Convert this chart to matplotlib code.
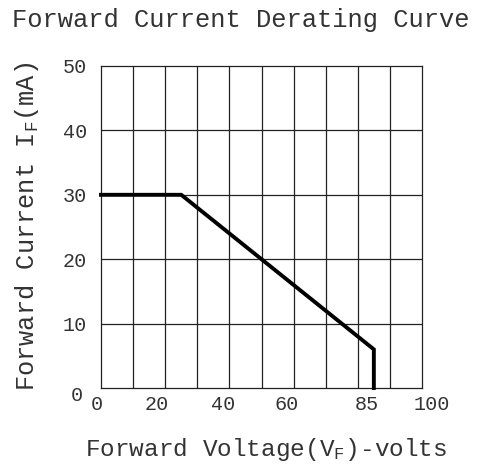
import matplotlib
matplotlib.use('Agg')
import matplotlib.pyplot as plt
from matplotlib.transforms import ScaledTranslation

# derating curve points (voltage, current)
volts = [0, 25, 85, 85]
current_ma = [30, 30, 6, 0]

x_ticks = [0, 20, 40, 60, 85, 100]
y_ticks = [0, 10, 20, 30, 40, 50]

plt.rcParams['font.family'] = ['Liberation Mono', 'DejaVu Sans']

fig = plt.figure(figsize=(4.83, 4.65), dpi=100)
ax = fig.add_axes([101 / 483, 77 / 465, 321 / 483, 322 / 465])

ax.set_xlim(0, 100)
ax.set_ylim(0, 50)

# grid every 10 units
for gx in range(10, 100, 10):
    ax.axvline(gx, color='#222222', lw=0.9, zorder=1)
for gy in range(10, 50, 10):
    ax.axhline(gy, color='#222222', lw=0.9, zorder=1)
for s in ax.spines.values():
    s.set_linewidth(0.9)
    s.set_color('#222222')

ax.plot(volts, current_ma, color='black', lw=2.8, solid_joinstyle='miter', zorder=3, clip_on=False)

ax.set_xticks(x_ticks)
ax.set_xticklabels([str(v) for v in x_ticks], fontsize=14.5, color='#333333')
ax.set_yticks(y_ticks)
ax.set_yticklabels([str(v) for v in y_ticks], fontsize=14.5, color='#333333')
ax.tick_params(length=0)
ax.tick_params(axis='x', pad=5)
ax.tick_params(axis='y', pad=10)

# small hand-drawn offsets of the tick labels (pixels)
x_shift = [-4, -8, -6, -7, -7, 10]
for lab, dx in zip(ax.get_xticklabels(), x_shift):
    lab.set_transform(lab.get_transform() + ScaledTranslation(dx / 100, 0, fig.dpi_scale_trans))
y0 = ax.get_yticklabels()[0]
y0.set_transform(y0.get_transform() + ScaledTranslation(-4 / 100, -5 / 100, fig.dpi_scale_trans))

fig.text(241 / 483, 1 - 20 / 465, 'Forward Current Derating Curve',
         ha='center', va='center', fontsize=18.4, color='#333333')
fig.text(266 / 483, 1 - 449 / 465, r'Forward Voltage($\mathregular{V_F}$)-volts',
         ha='center', va='center', fontsize=17.6, color='#333333')
fig.text(27 / 483, 1 - 226 / 465, r'Forward Current $\mathregular{I_F}$(mA)',
         ha='center', va='center', rotation=90, fontsize=18.3, color='#333333')

fig.savefig('out.png', dpi=100)
